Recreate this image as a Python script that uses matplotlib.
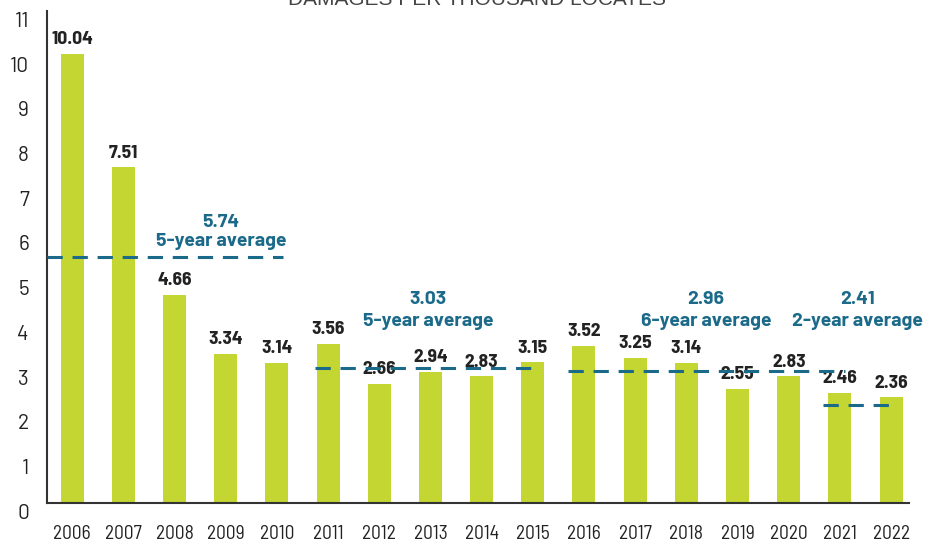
import matplotlib.pyplot as plt
import matplotlib.transforms as mtransforms
from matplotlib import font_manager

years = ["2006", "2007", "2008", "2009", "2010", "2011", "2012", "2013", "2014",
         "2015", "2016", "2017", "2018", "2019", "2020", "2021", "2022"]
damages = [10.04, 7.51, 4.66, 3.34, 3.14, 3.56, 2.66, 2.94, 2.83,
           3.15, 3.52, 3.25, 3.14, 2.55, 2.83, 2.46, 2.36]

avg_values = ["5.74", "3.03", "2.96", "2.41"]
avg_names = ["5-year average", "5-year average", "6-year average", "2-year average"]
avg_levels = [5.5, 3.02, 2.95, 2.19]  # where the dashed lines sit in the picture
avg_start = [-0.49, 4.75, 9.69, 14.67]
avg_end = [4.12, 9.14, 15.1, 16.03]
avg_text_x = [2.91, 6.95, 12.38, 15.35]
avg_text_y = [6.28, 4.54, 4.54, 4.54]
avg_name_y = [5.84, 4.05, 4.05, 4.05]

BAR_COLOR = "#c3d631"
AVG_COLOR = "#1b6a89"
TEXT_COLOR = "#222222"

installed = {f.name for f in font_manager.fontManager.ttflist}


def pick(cands):
    for c in cands:
        if c in installed:
            return c
    return "DejaVu Sans"


cond = pick(["Barlow Semi Condensed", "Barlow Condensed", "Roboto Condensed",
             "Liberation Sans Narrow"])
plain = pick(["Barlow", "Roboto", "Lato"])
title_font = pick(["Liberation Sans", "Roboto"])

fig = plt.figure(figsize=(9.27, 5.44), dpi=100)
ax = fig.add_axes([47 / 927, 41 / 544, 862 / 927, 492 / 544])

x = range(len(years))
ax.bar(x, damages, width=0.45, color=BAR_COLOR, zorder=2)

for xi, val in zip(x, damages):
    ax.annotate(f"{val:.2f}", (xi, val), xytext=(0, 4), textcoords="offset points",
                ha="center", va="bottom", fontsize=14, fontweight="bold",
                family=cond, color=TEXT_COLOR)

for i in range(len(avg_values)):
    ax.plot([avg_start[i], avg_end[i]], [avg_levels[i]] * 2, color=AVG_COLOR,
            lw=2.2, dashes=(5, 3.2), zorder=3, clip_on=False)
    ax.text(avg_text_x[i], avg_text_y[i], avg_values[i], ha="center", va="center",
            fontsize=14, fontweight="bold", family=plain, color=AVG_COLOR)
    ax.text(avg_text_x[i], avg_name_y[i], avg_names[i], ha="center", va="center",
            fontsize=14, fontweight="bold", family=plain, color=AVG_COLOR)

ax.set_xlim(-0.49, 16.35)
ax.set_ylim(0, 11)
ax.set_yticks(range(0, 12))
ax.set_xticks(list(x))
ax.set_xticklabels(years, family=cond, fontsize=14, color=TEXT_COLOR)
ax.set_yticklabels([str(v) for v in range(0, 12)], family=plain, fontsize=15,
                   color=TEXT_COLOR)
ax.tick_params(axis="x", length=0, pad=16)
ax.tick_params(axis="y", length=0, pad=13)

shift = mtransforms.ScaledTranslation(0, -6 / 72, fig.dpi_scale_trans)
for lab in ax.get_yticklabels():
    lab.set_transform(lab.get_transform() + shift)

for side in ["top", "right"]:
    ax.spines[side].set_visible(False)
for side in ["left", "bottom"]:
    ax.spines[side].set_color("#333333")
    ax.spines[side].set_linewidth(1.5)

fig.text(0.515, 1 - 5 / 544, "DAMAGES PER THOUSAND LOCATES", ha="center",
         va="baseline", fontsize=15, family=title_font, color="#444444")

fig.savefig("out.png", dpi=100)
